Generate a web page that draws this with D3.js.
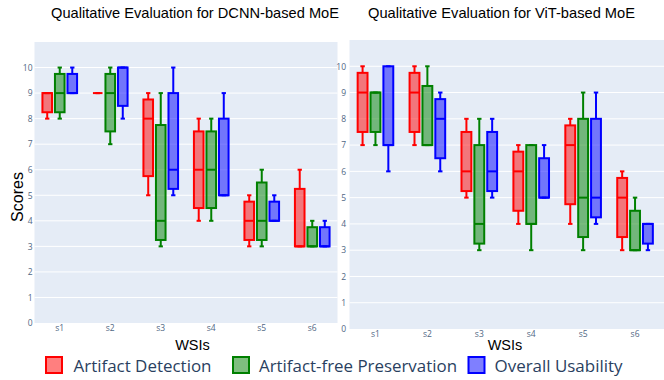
<!DOCTYPE html>
<html><head><meta charset="utf-8">
<script src="https://cdn.jsdelivr.net/npm/d3@7"></script>
<style>html,body{margin:0;padding:0;background:#fff;}svg{display:block;}</style>
</head><body><svg id="c" width="664" height="380"></svg>
<script>
// ---- data: each entry [min, q1, median, q3, max]
const categories = ["s1","s2","s3","s4","s5","s6"];
const seriesNames = ["Artifact Detection","Artifact-free Preservation","Overall Usability"];
const yTicks = [0,1,2,3,4,5,6,7,8,9,10];
const panelTitles = ["Qualitative Evaluation for DCNN-based MoE","Qualitative Evaluation for ViT-based MoE"];

const dcnnDetection = [[8,8.25,9,9,9],[9,9,9,9,9],[5,5.75,8,8.75,9],[4,4.5,6,7.5,8],[3,3.25,4,4.75,5],[3,3,3,5.25,6]];
const dcnnPreservation = [[8,8.25,9,9.75,10],[7,7.5,9,9.75,10],[3,3.25,4,7.75,9],[4,4.5,6,7.5,8],[3,3.25,4,5.5,6],[3,3,3,3.75,4]];
const dcnnUsability = [[9,9,9,9.75,10],[8,8.5,10,10,10],[5,5.25,6,9,10],[5,5,5,8,9],[4,4,4,4.75,5],[3,3,3,3.75,4]];

const vitDetection = [[7,7.5,9,9.75,10],[7,7.5,9,9.75,10],[5,5.25,6,7.5,8],[4,4.5,6,6.75,7],[4,4.75,7,7.75,8],[3,3.5,5,5.75,6]];
const vitPreservation = [[7,7.5,9,9,9],[7,7,7,9.25,10],[3,3.25,4,7,8],[3,4,4,7,7],[3,3.5,5,8,9],[3,3,3,4.5,5]];
const vitUsability = [[6,7,7,10,10],[6,6.5,8,8.75,9],[5,5.25,6,7.5,8],[5,5,5,6.5,7],[4,4.25,5,8,9],[3,3.25,4,4,4]];

const colors = ["#ff0000","#008000","#0000ff"];

const svg = d3.select("#c");

const panels = [
  {data:[dcnnDetection,dcnnPreservation,dcnnUsability], x0:34.5, x1:337.5, bgx1:337.5, y0:323, y1:42,
   titleX:195, titleW:288, wsisX:192.5, tickLabelRight:32.5, xTickY:325},
  {data:[vitDetection,vitPreservation,vitUsability], x0:349.5, x1:661, bgx1:664, y0:329, y1:40,
   titleX:501.5, titleW:267, wsisX:505, tickLabelRight:346, xTickY:331}
];

panels.forEach((p,pi)=>{
  const g = svg.append("g");
  const x = d3.scaleBand().domain(categories).range([p.x0,p.x1]);
  const y = d3.scaleLinear().domain([0,11]).range([p.y0,p.y1]);
  g.append("rect").attr("x",p.x0).attr("y",p.y1).attr("width",p.bgx1-p.x0).attr("height",p.y0-p.y1).attr("fill","#e5ecf6");
  // grid
  g.selectAll("line.grid").data(yTicks.filter(d=>d>0)).join("line")
    .attr("x1",p.x0).attr("x2",p.bgx1).attr("y1",d=>y(d)).attr("y2",d=>y(d))
    .attr("stroke","#fff").attr("stroke-width",1);
  // y axis labels
  const yAxis = d3.axisLeft(y).tickValues(yTicks).tickSize(0).tickPadding(0);
  const ya = g.append("g").attr("transform",`translate(${p.tickLabelRight},0)`).call(yAxis);
  ya.select(".domain").remove();
  ya.selectAll("text").attr("font-family","'Open Sans', sans-serif").attr("font-size",8.5).attr("fill","#506784");
  // x axis labels
  const xAxis = d3.axisBottom(x).tickSize(0).tickPadding(0);
  const xa = g.append("g").attr("transform",`translate(0,${p.xTickY})`).call(xAxis);
  xa.select(".domain").remove();
  xa.selectAll("text").attr("font-family","'Open Sans', sans-serif").attr("font-size",8.5).attr("fill","#506784");
  // boxes
  const bw = x.bandwidth();
  const offs = [-0.248, 0, 0.248];
  const boxW = bw*0.19;
  p.data.forEach((series,si)=>{
    series.forEach((st,ci)=>{
      const cx = x(categories[ci]) + bw/2 + offs[si]*bw;
      const [mn,q1,md,q3,mx] = st;
      const c = colors[si];
      const bg = g.append("g");
      const capW = boxW*0.45;
      bg.append("line").attr("x1",cx).attr("x2",cx).attr("y1",y(q3)).attr("y2",y(mx)).attr("stroke",c).attr("stroke-width",2);
      bg.append("line").attr("x1",cx).attr("x2",cx).attr("y1",y(q1)).attr("y2",y(mn)).attr("stroke",c).attr("stroke-width",2);
      bg.append("line").attr("x1",cx-capW/2).attr("x2",cx+capW/2).attr("y1",y(mx)).attr("y2",y(mx)).attr("stroke",c).attr("stroke-width",2);
      bg.append("line").attr("x1",cx-capW/2).attr("x2",cx+capW/2).attr("y1",y(mn)).attr("y2",y(mn)).attr("stroke",c).attr("stroke-width",2);
      bg.append("rect").attr("x",cx-boxW/2).attr("y",y(q3)).attr("width",boxW).attr("height",Math.max(0,y(q1)-y(q3)))
        .attr("fill",c).attr("fill-opacity",0.5).attr("stroke",c).attr("stroke-width",2);
      bg.append("line").attr("x1",cx-boxW/2).attr("x2",cx+boxW/2).attr("y1",y(md)).attr("y2",y(md)).attr("stroke",c).attr("stroke-width",2);
    });
  });
  // title
  svg.append("text").attr("x",p.titleX).attr("y",18).attr("text-anchor","middle")
    .attr("font-family","'Liberation Sans', Arial, sans-serif").attr("font-size",15).attr("fill","#000")
    .attr("textLength",p.titleW).attr("lengthAdjust","spacingAndGlyphs").text(panelTitles[pi]);
  // WSIs
  svg.append("text").attr("x",p.wsisX).attr("y",350).attr("text-anchor","middle")
    .attr("font-family","'Liberation Sans', Arial, sans-serif").attr("font-size",14.5).attr("fill","#000")
    .text("WSIs");
});

// y title
svg.append("text").attr("transform","translate(23,197) rotate(-90)").attr("text-anchor","middle")
  .attr("font-family","'Liberation Sans', Arial, sans-serif").attr("font-size",16).attr("fill","#000")
  .text("Scores");

// legend
const legX = [46, 233, 468.5];
const legTextX = [73.5, 259, 494.5];
const legTextW = [138, 198, 128];
seriesNames.forEach((n,i)=>{
  svg.append("rect").attr("x",legX[i]).attr("y",357).attr("width",16).attr("height",16)
    .attr("fill",colors[i]).attr("fill-opacity",0.5).attr("stroke",colors[i]).attr("stroke-width",2);
  svg.append("text").attr("x",legTextX[i]).attr("y",371.5)
    .attr("font-family","'Open Sans', sans-serif").attr("font-size",16.5).attr("fill","#2a3f5f")
    .attr("textLength",legTextW[i]).attr("lengthAdjust","spacingAndGlyphs").text(n);
});
</script></body></html>
